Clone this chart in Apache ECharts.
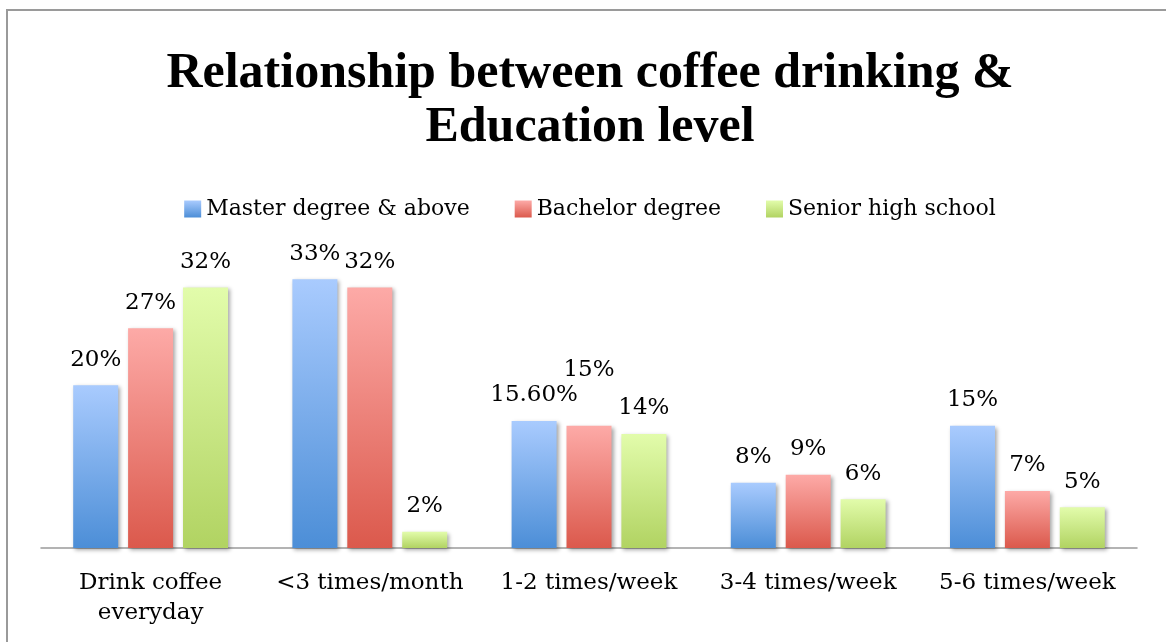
<!DOCTYPE html>
<html>
<head>
<meta charset="utf-8">
<script src="https://cdn.jsdelivr.net/npm/echarts@6/dist/echarts.min.js"></script>
<style>
  html, body { margin: 0; padding: 0; background: #fff; overflow: hidden; }
  #chart { width: 1180px; height: 642px; }
</style>
</head>
<body>
<div id="chart"></div>
<script>
// Survey: share of respondents by coffee frequency, per education level (%)
const categories = ['Drink coffee\neveryday', '<3 times/month', '1-2 times/week', '3-4 times/week', '5-6 times/week'];
const seriesNames = ['Master degree & above', 'Bachelor degree', 'Senior high school'];
const masterValues = [20, 33, 15.6, 8, 15];
const bachelorValues = [27, 32, 15, 9, 7];
const seniorValues = [32, 2, 14, 6, 5];

const serif = 'DejaVu Serif';
const gradients = [
  ['#a9cbfe', '#4c8ed7'],
  ['#fdaaa7', '#db594c'],
  ['#e2fcab', '#b1d362']
];

function pct(v) {
  return Number.isInteger(v) ? v + '%' : v.toFixed(2) + '%';
}

function makeSeries(name, values, idx) {
  const [top, bottom] = gradients[idx];
  return {
    name: name,
    type: 'bar',
    barWidth: 45,
    barGap: '22%',
    data: values.map((v, i) => {
      const item = { value: v };
      // the Bachelor label over "1-2 times/week" sits higher to clear its neighbour
      if (idx === 1 && i === 2) item.label = { offset: [0, -30] };
      return item;
    }),
    itemStyle: {
      color: new echarts.graphic.LinearGradient(0, 0, 0, 1, [
        { offset: 0, color: top },
        { offset: 1, color: bottom }
      ]),
      shadowColor: 'rgba(0,0,0,0.35)',
      shadowBlur: 4,
      shadowOffsetX: 2,
      shadowOffsetY: 2
    },
    label: {
      show: true,
      position: 'top',
      distance: 14,
      fontFamily: serif,
      fontSize: 23,
      color: '#000',
      formatter: p => pct(p.value)
    }
  };
}

const chart = echarts.init(document.getElementById('chart'), null, { renderer: 'canvas' });
chart.setOption({
  backgroundColor: '#fff',
  animation: false,
  graphic: [{
    type: 'polyline',
    shape: { points: [[7, 642], [7, 10], [1180, 10]] },
    style: { stroke: '#9a9a9a', lineWidth: 2, fill: null }
  }],
  title: {
    text: 'Relationship between coffee drinking &\nEducation level',
    left: 'center',
    top: 42,
    textStyle: {
      fontFamily: 'Liberation Serif',
      fontWeight: 'bold',
      fontSize: 50,
      lineHeight: 54,
      color: '#000'
    }
  },
  legend: {
    data: seriesNames,
    left: 'center',
    top: 193,
    icon: 'rect',
    itemWidth: 17,
    itemHeight: 17,
    itemGap: 45,
    textStyle: { fontFamily: serif, fontSize: 22, color: '#000' }
  },
  grid: { left: 41, right: 43, top: 263, bottom: 94, containLabel: false },
  xAxis: {
    type: 'category',
    data: categories,
    axisLine: { lineStyle: { color: '#9a9a9a', width: 1.5 } },
    axisTick: { show: false },
    axisLabel: {
      fontFamily: serif,
      fontSize: 23,
      color: '#000',
      lineHeight: 30,
      margin: 20,
      interval: 0
    }
  },
  yAxis: {
    type: 'value',
    min: 0,
    max: 35,
    show: false,
    splitLine: { show: false }
  },
  series: [
    makeSeries(seriesNames[0], masterValues, 0),
    makeSeries(seriesNames[1], bachelorValues, 1),
    makeSeries(seriesNames[2], seniorValues, 2)
  ]
});
</script>
</body>
</html>
